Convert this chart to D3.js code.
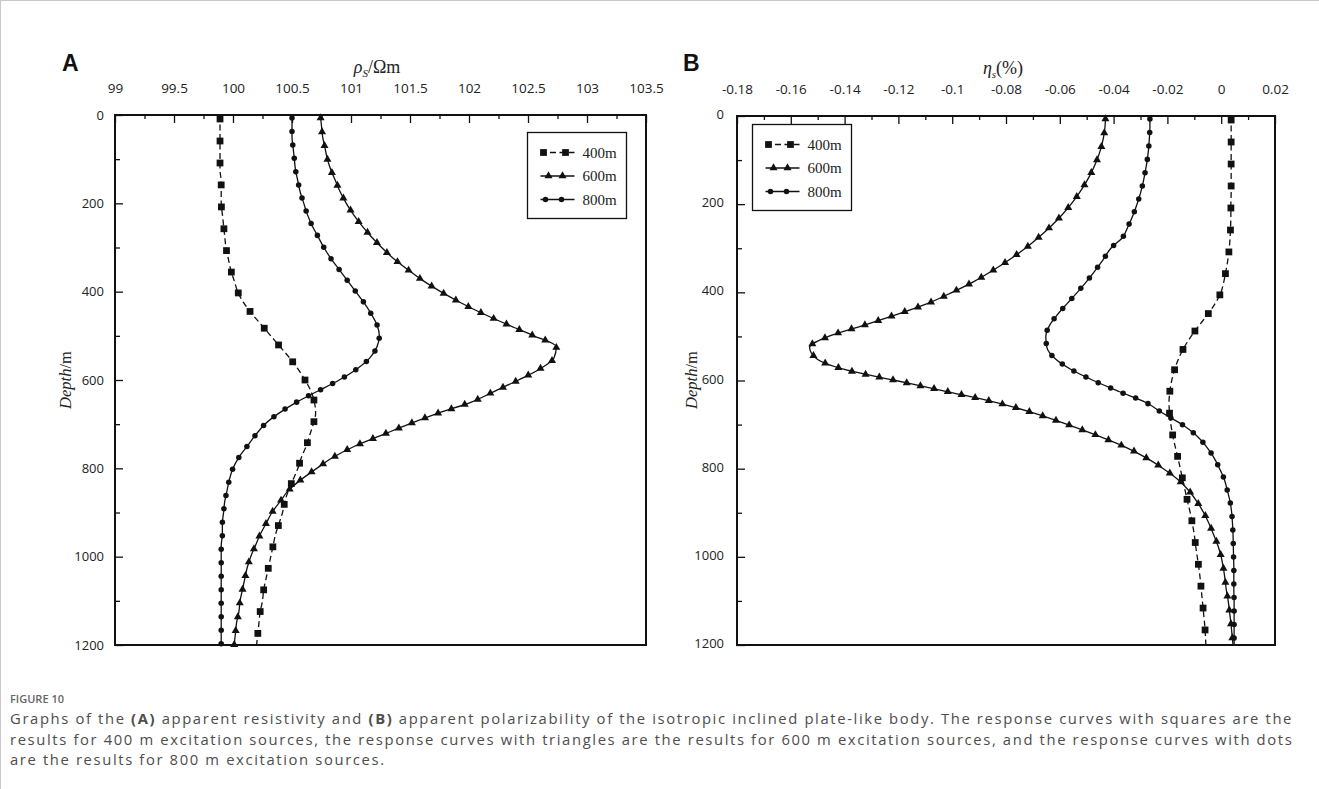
<!DOCTYPE html>
<html>
<head>
<meta charset="utf-8">
<script src="https://cdn.jsdelivr.net/npm/d3@7"></script>
<style>
  body { margin: 0; background: #fff; }
  svg text { font-family: "Open Sans", "Noto Sans", sans-serif; }
  .serif { font-family: "Liberation Serif", "DejaVu Serif", serif !important; }
</style>
</head>
<body>
<div id="chart"></div>
<script>
// depths (m) at which the curves were read
const depths = [0, 25, 50, 75, 100, 125, 150, 175, 200, 225, 250, 275, 300, 325, 350, 375,
  400, 425, 450, 475, 500, 525, 550, 575, 600, 625, 650, 675, 700, 725, 750, 775,
  800, 825, 850, 875, 900, 925, 950, 975, 1000, 1025, 1050, 1075, 1100, 1125, 1150, 1175, 1200];

// panel A: apparent resistivity (ohm m)
const rho400 = [99.89, 99.89, 99.89, 99.89, 99.89, 99.89, 99.9, 99.9, 99.9, 99.91, 99.92, 99.93,
  99.94, 99.96, 99.98, 100.01, 100.04, 100.09, 100.16, 100.24, 100.32, 100.4, 100.48, 100.55,
  100.61, 100.66, 100.69, 100.7, 100.68, 100.65, 100.62, 100.58, 100.55, 100.51, 100.47, 100.44,
  100.42, 100.39, 100.36, 100.34, 100.32, 100.3, 100.28, 100.26, 100.25, 100.23, 100.22, 100.21, 100.2];
const rho600 = [100.74, 100.75, 100.76, 100.78, 100.8, 100.83, 100.87, 100.91, 100.96, 101.02,
  101.09, 101.17, 101.26, 101.36, 101.48, 101.61, 101.76, 101.93, 102.12, 102.33,
  102.55, 102.74, 102.72, 102.6, 102.42, 102.22, 102.02, 101.74, 101.49, 101.26,
  101.03, 100.85, 100.71, 100.58, 100.47, 100.4, 100.33, 100.28, 100.23, 100.19,
  100.15, 100.12, 100.1, 100.08, 100.06, 100.05, 100.03, 100.02, 100.01];
const rho800 = [100.5, 100.5, 100.5, 100.51, 100.52, 100.53, 100.55, 100.57, 100.6, 100.63,
  100.67, 100.72, 100.77, 100.83, 100.9, 100.97, 101.04, 101.11, 101.17, 101.22,
  101.24, 101.22, 101.16, 101.05, 100.9, 100.72, 100.54, 100.39, 100.27, 100.19,
  100.12, 100.05, 100.0, 99.97, 99.95, 99.93, 99.92, 99.91, 99.91, 99.9,
  99.9, 99.9, 99.9, 99.9, 99.9, 99.9, 99.9, 99.9, 99.9];

// panel B: apparent polarizability (%)
const eta400 = [0.0037, 0.0037, 0.0037, 0.0037, 0.0037, 0.0037, 0.0037, 0.0037, 0.0036, 0.0036,
  0.0035, 0.0033, 0.003, 0.0025, 0.0018, 0.001, -0.0001, -0.0022, -0.005, -0.0082,
  -0.0112, -0.0138, -0.0158, -0.0173, -0.0184, -0.0191, -0.0194, -0.0192, -0.0187, -0.018,
  -0.0171, -0.0161, -0.0152, -0.0143, -0.0134, -0.0125, -0.0115, -0.0107, -0.01, -0.0095,
  -0.0089, -0.0083, -0.0078, -0.0074, -0.007, -0.0066, -0.0062, -0.0059, -0.0057];
const eta600 = [-0.043, -0.0432, -0.0438, -0.0448, -0.0462, -0.048, -0.0502, -0.0528, -0.0558, -0.0593,
  -0.0633, -0.0678, -0.0728, -0.0785, -0.0848, -0.0918, -0.1, -0.109, -0.1205, -0.133,
  -0.146, -0.153, -0.1505, -0.14, -0.121, -0.102, -0.0835, -0.069, -0.057, -0.046,
  -0.036, -0.028, -0.0215, -0.016, -0.012, -0.009, -0.0065, -0.0045, -0.0028, -0.0012,
  0, 0.0008, 0.0014, 0.0019, 0.0026, 0.0031, 0.0036, 0.004, 0.0044];
const eta800 = [-0.0265, -0.0265, -0.0267, -0.027, -0.0275, -0.0282, -0.029, -0.03, -0.0313, -0.0328,
  -0.0346, -0.0366, -0.041, -0.0438, -0.0468, -0.05, -0.0535, -0.0572, -0.0608, -0.0638,
  -0.0652, -0.0648, -0.0618, -0.0558, -0.0475, -0.038, -0.028, -0.0215, -0.0145, -0.0092,
  -0.0055, -0.0027, -0.0006, 0.0012, 0.0023, 0.0033, 0.0039, 0.0042, 0.0044, 0.0045,
  0.0046, 0.0047, 0.0047, 0.0047, 0.0048, 0.0048, 0.0048, 0.0048, 0.0048];

const rhoTicks = [99, 99.5, 100, 100.5, 101, 101.5, 102, 102.5, 103, 103.5];
const etaTicks = [-0.18, -0.16, -0.14, -0.12, -0.1, -0.08, -0.06, -0.04, -0.02, 0, 0.02];
const depthTicks = [0, 200, 400, 600, 800, 1000, 1200];
const seriesNames = ['400m', '600m', '800m'];

const svg = d3.select('#chart').append('svg')
  .attr('width', 1319)
  .attr('height', 789);

// thin frame of the figure
svg.append('line').attr('x1', 0).attr('x2', 1319).attr('y1', 0.5).attr('y2', 0.5)
  .attr('stroke', '#c8c8c8');
svg.append('line').attr('x1', 0.5).attr('x2', 0.5).attr('y1', 0).attr('y2', 789)
  .attr('stroke', '#c8c8c8');

const markerTypes = [
  { symbol: d3.symbolSquare, size: 46, step: 22, start: 4, dash: '6,3.5' },
  { symbol: d3.symbolTriangle, size: 28, step: 14, start: 3, dash: null },
  { symbol: d3.symbolCircle, size: 24, step: 13.5, start: 3, dash: null },
];

function markersAlong(path, step, start) {
  const node = path.node();
  const len = node.getTotalLength();
  const pts = [];
  for (let s = start; s <= len; s += step) {
    const p = node.getPointAtLength(s);
    pts.push([p.x, p.y]);
  }
  return pts;
}

function drawPanel(p) {
  const x = d3.scaleLinear().domain(p.xDomain).range([p.left, p.right]);
  const y = d3.scaleLinear().domain([0, 1200]).range([p.top, p.bottom]);
  const g = svg.append('g');

  // minor and major ticks on the top axis, pointing inwards
  g.append('g')
    .attr('transform', `translate(0,${p.top})`)
    .call(d3.axisTop(x).tickValues(p.minorX).tickSize(-4).tickFormat(''))
    .call(a => a.select('.domain').remove());
  g.append('g')
    .attr('transform', `translate(0,${p.top})`)
    .call(d3.axisTop(x).tickValues(p.xTicks).tickSize(-8).tickPadding(p.xLabelPad)
      .tickFormat(d => String(d)))
    .call(a => a.select('.domain').remove())
    .call(a => a.selectAll('text').attr('font-size', 13.5).attr('fill', '#222'));

  // left axis
  g.append('g')
    .attr('transform', `translate(${p.left},0)`)
    .call(d3.axisLeft(y).tickValues(d3.range(100, 1200, 200)).tickSize(-5).tickFormat(''))
    .call(a => a.select('.domain').remove());
  g.append('g')
    .attr('transform', `translate(${p.left},0)`)
    .call(d3.axisLeft(y).tickValues(depthTicks).tickSize(-8).tickPadding(p.yLabelPad)
      .tickFormat(d => String(d)))
    .call(a => a.select('.domain').remove())
    .call(a => a.selectAll('text').attr('font-size', 13).attr('fill', '#222')
      .attr('dy', p.yLabelDy));
  g.selectAll('.tick line').attr('stroke', '#111').attr('stroke-width', 1.3);

  // curves
  p.series.forEach((vals, i) => {
    const m = markerTypes[i];
    const pts = depths.map((d, j) => ({ d: d, v: vals[j] }));
    const line = d3.line()
      .x(d => x(d.v))
      .y(d => y(d.d))
      .curve(d3.curveMonotoneY);
    const path = g.append('path')
      .datum(pts)
      .attr('d', line)
      .attr('fill', 'none')
      .attr('stroke', '#111')
      .attr('stroke-width', 1.3)
      .attr('stroke-dasharray', m.dash);
    g.append('g').selectAll('path')
      .data(markersAlong(path, m.step, m.start))
      .join('path')
      .attr('transform', d => `translate(${d[0]},${d[1]})`)
      .attr('d', d3.symbol().type(m.symbol).size(m.size))
      .attr('fill', '#111');
  });

  // frame
  g.append('rect')
    .attr('x', p.left).attr('y', p.top)
    .attr('width', p.right - p.left).attr('height', p.bottom - p.top)
    .attr('fill', 'none').attr('stroke', '#111').attr('stroke-width', 2);

  // legend
  const lg = g.append('g').attr('transform', `translate(${p.legX},${p.legY})`);
  lg.append('rect').attr('width', 99).attr('height', 86)
    .attr('fill', '#fff').attr('stroke', '#111').attr('stroke-width', 1.3);
  seriesNames.forEach((name, i) => {
    const m = markerTypes[i];
    const ly = 20 + i * 23.5;
    lg.append('line').attr('x1', 13).attr('x2', 47).attr('y1', ly).attr('y2', ly)
      .attr('stroke', '#111').attr('stroke-width', 1.3).attr('stroke-dasharray', m.dash);
    const mx = i === 0 ? [16, 38] : i === 1 ? [21, 35] : [18, 34];
    mx.forEach(xx => {
      lg.append('path').attr('transform', `translate(${xx},${ly})`)
        .attr('d', d3.symbol().type(m.symbol).size(m.size)).attr('fill', '#111');
    });
    lg.append('text').attr('class', 'serif').attr('x', 55).attr('y', ly + 5)
      .attr('font-size', 15).attr('fill', '#222').text(name);
  });

  // panel letter
  svg.append('text').attr('x', p.letterX).attr('y', 71)
    .attr('font-size', 23).attr('font-weight', 'bold').attr('fill', '#111')
    .style('font-family', '"Liberation Sans", Arial, sans-serif')
    .text(p.letter);

  // depth title
  const yt = svg.append('text').attr('class', 'serif')
    .attr('transform', `translate(${p.yTitleX},380) rotate(-90)`)
    .attr('text-anchor', 'middle').attr('font-size', 16.5).attr('fill', '#222');
  yt.append('tspan').attr('font-style', 'italic').text('Depth');
  yt.append('tspan').text('/m');

  return { x, y };
}

drawPanel({
  letter: 'A', letterX: 62,
  left: 115, right: 646, top: 115, bottom: 645,
  xDomain: [99, 103.5], xTicks: rhoTicks, minorX: d3.range(99.25, 103.5, 0.5),
  xLabelPad: 22, yLabelPad: 11, yLabelDy: '0.32em', yTitleX: 71,
  legX: 527.5, legY: 132.5,
  series: [rho400, rho600, rho800],
});
drawPanel({
  letter: 'B', letterX: 683,
  left: 737, right: 1275, top: 116, bottom: 645,
  xDomain: [-0.18, 0.02], xTicks: etaTicks, minorX: d3.range(-0.17, 0.02, 0.02),
  xLabelPad: 22, yLabelPad: 13, yLabelDy: '0.2em', yTitleX: 697,
  legX: 752.5, legY: 124.5,
  series: [eta400, eta600, eta800],
});

// axis titles
const tA = svg.append('text').attr('class', 'serif').attr('x', 377).attr('y', 73)
  .attr('text-anchor', 'middle').attr('font-size', 18).attr('fill', '#222');
tA.append('tspan').attr('font-style', 'italic').text('ρ');
tA.append('tspan').attr('font-style', 'italic').attr('font-size', 11).attr('dy', 4).text('S');
tA.append('tspan').attr('dy', -4).text('/Ωm');

const tB = svg.append('text').attr('class', 'serif').attr('x', 1003).attr('y', 74)
  .attr('text-anchor', 'middle').attr('font-size', 18).attr('fill', '#222');
tB.append('tspan').attr('font-style', 'italic').text('η');
tB.append('tspan').attr('font-style', 'italic').attr('font-size', 11).attr('dy', 4).text('s');
tB.append('tspan').attr('dy', -4).text('(%)');

// caption
svg.append('text').attr('x', 10).attr('y', 703)
  .attr('font-size', 11).attr('font-weight', 600).attr('fill', '#666')
  .text('FIGURE 10');

const captionLines = [
  [['Graphs of the ', false], ['(A)', true], [' apparent resistivity and ', false], ['(B)', true],
    [' apparent polarizability of the isotropic inclined plate-like body. The response curves with squares are the', false]],
  [['results for 400 m excitation sources, the response curves with triangles are the results for 600 m excitation sources, and the response curves with dots', false]],
  [['are the results for 800 m excitation sources.', false]],
];
const captionTexts = captionLines.map((parts, i) => {
  const t = svg.append('text').attr('x', 10).attr('y', 724 + i * 20.5)
    .attr('font-size', 14.8).attr('fill', '#4d4d4d');
  parts.forEach(([s, b]) => {
    t.append('tspan').attr('font-weight', b ? 700 : 400).text(s);
  });
  return t;
});
// spread the caption letters so the first line runs to the right margin, as in the figure
const firstLine = captionTexts[0];
const nChars = firstLine.text().length;
const spacing = (1283 - firstLine.node().getComputedTextLength()) / nChars;
captionTexts.forEach(t => t.attr('letter-spacing', spacing.toFixed(3)));
</script>
</body>
</html>
